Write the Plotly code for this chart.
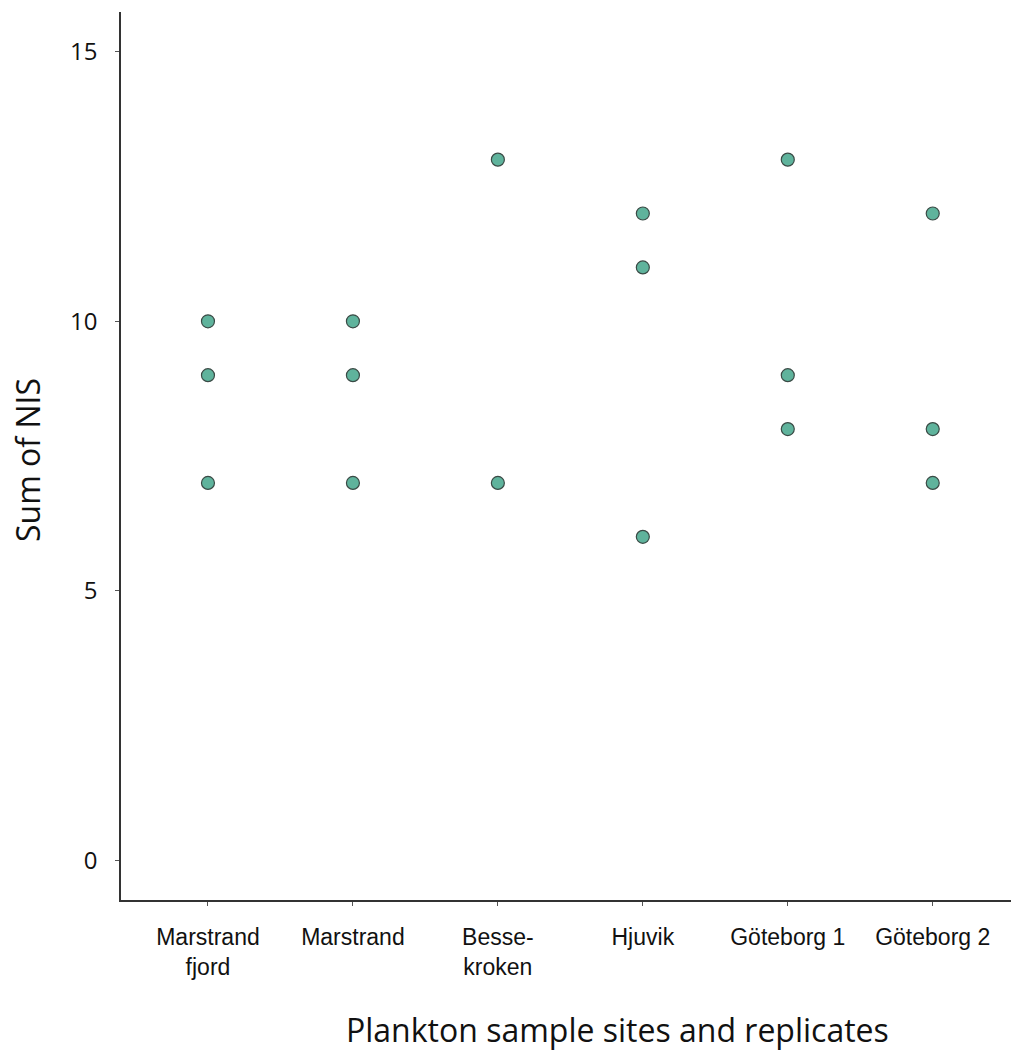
import plotly.graph_objects as go

# Sample sites (x categories) and the NIS counts recorded for each replicate
sites = ["Marstrand<br>fjord", "Marstrand", "Besse-<br>kroken", "Hjuvik", "Göteborg 1", "Göteborg 2"]
marstrand_fjord = [10, 9, 7]
marstrand = [10, 9, 7]
bessekroken = [13, 7]
hjuvik = [12, 11, 6]
goteborg_1 = [13, 9, 8]
goteborg_2 = [12, 8, 7]
y_ticks = [0, 5, 10, 15]

x_title = "Plankton sample sites and replicates"
y_title = "Sum of NIS"

groups = [marstrand_fjord, marstrand, bessekroken, hjuvik, goteborg_1, goteborg_2]
xs, ys = [], []
for i, vals in enumerate(groups):
    for v in vals:
        xs.append(i)
        ys.append(v)

fig = go.Figure(go.Scatter(
    x=xs, y=ys, mode="markers",
    marker=dict(size=13, color="#5fb39c", line=dict(color="#3a4a45", width=1.2)),
    showlegend=False,
))

title_font = "Open Sans, Lato, sans-serif"
label_font = "Liberation Sans Narrow, Arial Narrow, Liberation Sans, sans-serif"

fig.update_layout(
    width=1011, height=1053,
    margin=dict(l=121, r=0, t=12, b=153),
    paper_bgcolor="white", plot_bgcolor="white",
    font=dict(family=label_font, color="#111"),
    annotations=[
        dict(text=x_title, xref="paper", yref="paper", x=0.558, y=-0.146,
             xanchor="center", yanchor="middle", showarrow=False,
             font=dict(size=32, family=title_font, color="#111")),
        dict(text=y_title, xref="paper", yref="paper", x=-0.1045, y=0.4955,
             xanchor="center", yanchor="middle", showarrow=False, textangle=-90,
             font=dict(size=32, family=title_font, color="#111")),
    ],
)

fig.update_xaxes(
    range=[-0.6, 5.54],
    tickmode="array", tickvals=list(range(len(sites))), ticktext=sites,
    showline=True, linecolor="#333", linewidth=1.5,
    ticks="outside", ticklen=4, tickcolor="#555", tickwidth=1,
    tickfont=dict(size=23, family=label_font),
    ticklabelstandoff=12,
    showgrid=False, zeroline=False,
)

fig.update_yaxes(
    range=[-0.74, 15.74],
    tickmode="array", tickvals=y_ticks,
    showline=True, linecolor="#333", linewidth=1.5,
    ticks="outside", ticklen=4, tickcolor="#555", tickwidth=1,
    tickfont=dict(size=24, family=title_font),
    ticklabelstandoff=13,
    showgrid=False, zeroline=False,
)

fig.write_html("out.html")
